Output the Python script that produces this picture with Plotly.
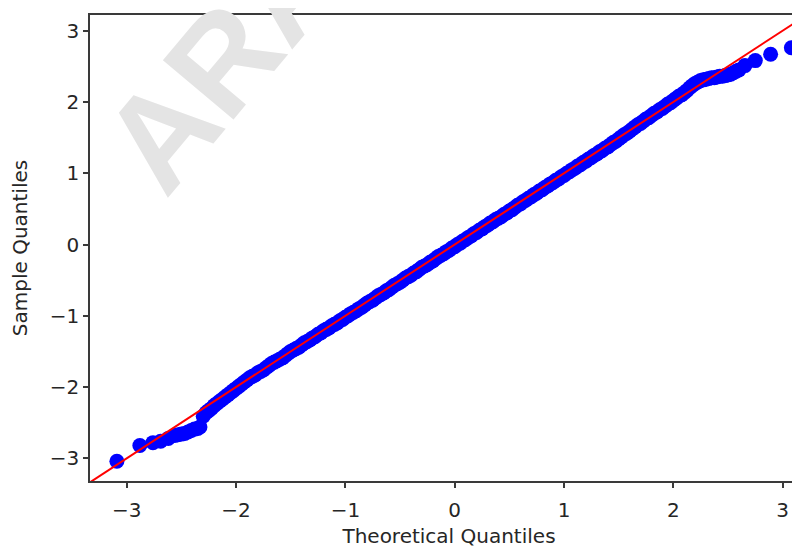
import plotly.graph_objects as go

# Q-Q plot data (theoretical vs sample quantiles)
theoretical = [
    -3.09, -2.88, -2.76, -2.69, -2.62,
    -2.56, -2.53, -2.50, -2.47, -2.44, -2.41, -2.38, -2.35, -2.33,
    -2.300, -2.275, -2.250, -2.225, -2.200, -2.175, -2.150, -2.125, -2.100, -2.075, -2.050, -2.025, -2.000,
    -1.975, -1.950, -1.925, -1.900, -1.875, -1.850, -1.825, -1.800, -1.775, -1.750,
    -1.725, -1.700, -1.675, -1.650, -1.625, -1.600, -1.575, -1.550, -1.525, -1.500,
    -1.475, -1.450, -1.425, -1.400, -1.375, -1.350, -1.325, -1.300, -1.275, -1.250,
    -1.225, -1.200, -1.175, -1.150, -1.125, -1.100, -1.075, -1.050, -1.025, -1.000,
    -0.975, -0.950, -0.925, -0.900, -0.875, -0.850, -0.825, -0.800, -0.775, -0.750,
    -0.725, -0.700, -0.675, -0.650, -0.625, -0.600, -0.575, -0.550, -0.525, -0.500,
    -0.475, -0.450, -0.425, -0.400, -0.375, -0.350, -0.325, -0.300, -0.275, -0.250,
    -0.225, -0.200, -0.175, -0.150, -0.125, -0.100, -0.075, -0.050, -0.025, 0.000,
    0.025, 0.050, 0.075, 0.100, 0.125, 0.150, 0.175, 0.200, 0.225, 0.250,
    0.275, 0.300, 0.325, 0.350, 0.375, 0.400, 0.425, 0.450, 0.475, 0.500,
    0.525, 0.550, 0.575, 0.600, 0.625, 0.650, 0.675, 0.700, 0.725, 0.750,
    0.775, 0.800, 0.825, 0.850, 0.875, 0.900, 0.925, 0.950, 0.975, 1.000,
    1.025, 1.050, 1.075, 1.100, 1.125, 1.150, 1.175, 1.200, 1.225, 1.250,
    1.275, 1.300, 1.325, 1.350, 1.375, 1.400, 1.425, 1.450, 1.475, 1.500,
    1.525, 1.550, 1.575, 1.600, 1.625, 1.650, 1.675, 1.700, 1.725, 1.750,
    1.775, 1.800, 1.825, 1.850, 1.875, 1.900, 1.925, 1.950, 1.975,
    2.000, 2.025, 2.050, 2.075, 2.100, 2.125, 2.150, 2.175, 2.200, 2.225,
    2.250, 2.275, 2.300, 2.325, 2.350, 2.375, 2.400, 2.425, 2.450, 2.475,
    2.500, 2.525, 2.550, 2.575, 2.600,
    2.655, 2.75, 2.89, 3.08,
]
sample = [
    -3.04, -2.82, -2.78, -2.76, -2.72,
    -2.68, -2.67, -2.66, -2.65, -2.63, -2.61, -2.59, -2.58, -2.56,
    -2.41, -2.36, -2.33, -2.30, -2.26, -2.23, -2.20, -2.17, -2.14, -2.11, -2.08, -2.05, -2.02,
    -1.99, -1.96, -1.93, -1.90, -1.87, -1.85, -1.83, -1.80, -1.78, -1.76,
    -1.73, -1.70, -1.67, -1.65, -1.63, -1.61, -1.59, -1.56, -1.53, -1.50,
    -1.48, -1.46, -1.44, -1.41, -1.38, -1.36, -1.34, -1.31, -1.29, -1.26,
    -1.24, -1.21, -1.19, -1.17, -1.14, -1.12, -1.10, -1.07, -1.05, -1.02,
    -1.00, -0.97, -0.95, -0.93, -0.90, -0.88, -0.85, -0.82, -0.80, -0.78,
    -0.75, -0.72, -0.70, -0.68, -0.65, -0.63, -0.60, -0.57, -0.55, -0.53,
    -0.50, -0.47, -0.45, -0.43, -0.40, -0.38, -0.35, -0.32, -0.30, -0.28,
    -0.25, -0.23, -0.20, -0.17, -0.15, -0.13, -0.10, -0.08, -0.05, -0.03,
    0.00, 0.02, 0.05, 0.07, 0.10, 0.12, 0.15, 0.17, 0.20, 0.22,
    0.25, 0.27, 0.30, 0.32, 0.35, 0.37, 0.39, 0.42, 0.44, 0.47,
    0.49, 0.52, 0.55, 0.57, 0.60, 0.62, 0.65, 0.67, 0.70, 0.72,
    0.75, 0.77, 0.80, 0.82, 0.85, 0.87, 0.90, 0.92, 0.95, 0.97,
    1.00, 1.02, 1.05, 1.07, 1.10, 1.12, 1.15, 1.17, 1.20, 1.22,
    1.25, 1.27, 1.30, 1.32, 1.35, 1.37, 1.40, 1.43, 1.45, 1.48,
    1.51, 1.54, 1.56, 1.59, 1.62, 1.65, 1.68, 1.70, 1.73, 1.76,
    1.78, 1.81, 1.84, 1.86, 1.89, 1.91, 1.94, 1.97, 1.99,
    2.02, 2.05, 2.08, 2.10, 2.13, 2.16, 2.20, 2.23, 2.26, 2.28,
    2.30, 2.31, 2.32, 2.33, 2.34, 2.34, 2.35, 2.36, 2.36, 2.37,
    2.38, 2.39, 2.41, 2.43, 2.45,
    2.51, 2.58, 2.67, 2.76,
]

x_ticks = [-3, -2, -1, 0, 1, 2, 3]
y_ticks = [-3, -2, -1, 0, 1, 2, 3]
tick_text = ["\u22123", "\u22122", "\u22121", "0", "1", "2", "3"]
x_range = [-3.336, 3.232]
y_range = [-3.318, 3.22]

font_family = "DejaVu Sans"
axis_color = "#3a3a3a"
text_color = "#262626"

fig = go.Figure()

fig.add_trace(go.Scatter(
    x=theoretical, y=sample, mode="markers",
    marker=dict(color="#0000ff", size=15, line=dict(width=0)),
    showlegend=False, hoverinfo="x+y",
))

# 45-degree reference line spanning the axis range
lo = min(x_range[0], y_range[0]) - 0.2
hi = max(x_range[1], y_range[1]) + 0.2
fig.add_trace(go.Scatter(
    x=[lo, hi], y=[lo, hi], mode="lines",
    line=dict(color="#ff0000", width=2),
    showlegend=False, hoverinfo="skip",
))

# watermark
fig.add_annotation(
    text="ARA", x=-2.12, y=2.60, xref="x", yref="y",
    xanchor="center", yanchor="middle", showarrow=False,
    textangle=-50,
    font=dict(family="Liberation Sans", size=134, color="#e4e4e4", weight="bold"),
)

# page body adds an 8px offset; margins compensate so the axes sit where the reference has them
fig.update_layout(
    width=800, height=547,
    margin=dict(l=82, r=0, t=7, b=74, autoexpand=False),
    paper_bgcolor="white", plot_bgcolor="white",
    font=dict(family=font_family, size=20, color=text_color),
    xaxis=dict(
        range=x_range, tickvals=x_ticks, ticktext=tick_text, automargin=False,
        showgrid=False, zeroline=False, showline=True, linecolor=axis_color, linewidth=1.5,
        mirror=True, ticks="outside", ticklen=5, tickwidth=1.5, tickcolor=axis_color,
        ticklabelstandoff=5,
        tickfont=dict(size=20, color=text_color),
        title=dict(text="Theoretical Quantiles", font=dict(size=20, color=text_color), standoff=8),
    ),
    yaxis=dict(
        range=y_range, tickvals=y_ticks, ticktext=tick_text, automargin=False,
        showgrid=False, zeroline=False, showline=True, linecolor=axis_color, linewidth=1.5,
        ticks="outside", ticklen=5, tickwidth=1.5, tickcolor=axis_color,
        tickfont=dict(size=20, color=text_color),
        title=dict(text="Sample Quantiles", font=dict(size=20, color=text_color), standoff=18),
    ),
)

fig.write_html("out.html")
